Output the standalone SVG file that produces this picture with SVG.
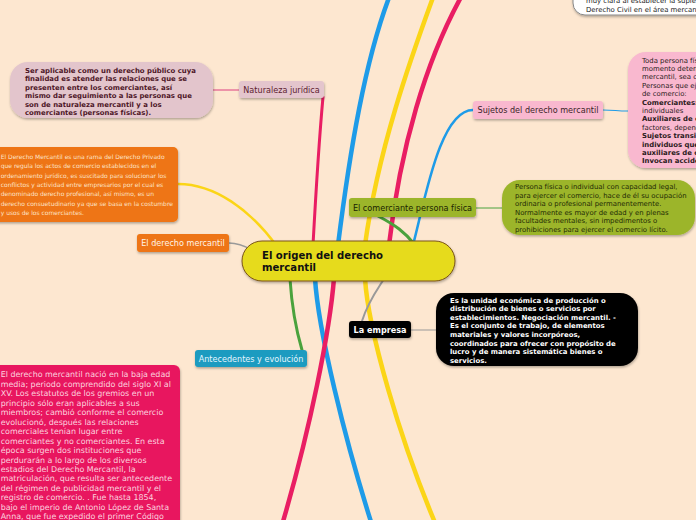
<svg xmlns="http://www.w3.org/2000/svg" width="696" height="520" viewBox="0 0 696 520">
<defs>
<filter id="sh" x="-10%" y="-10%" width="120%" height="130%">
<feDropShadow dx="0.5" dy="1.5" stdDeviation="1" flood-color="#000" flood-opacity="0.3"/>
</filter>
<style>
text{font-family:"DejaVu Sans",Verdana,sans-serif}
.c{fill:none;stroke-linecap:round}
.thick{stroke-width:4.5}
.blue{stroke:#1e9be8}
.yel{stroke:#fbd517}
.red{stroke:#e91e63}
.grn{stroke:#4aa23c}
.gry{stroke:#999}
.lbl{font-size:8.1px;text-anchor:middle}
.note{font-size:6.9px}
.b{font-weight:bold}
</style>
</defs>
<rect width="696" height="520" fill="#fde7d0"/>

<g id="connectors">
<path class="c thick blue" d="M338,245 C350,150 365,60 390,-5"/>
<path class="c thick yel" d="M365,245 C378,150 410,60 435,-8"/>
<path class="c thick red" d="M389,245 C400,150 425,60 465,-10"/>
<path class="c thick blue" d="M315,278 C318,330 345,440 372,525"/>
<path class="c thick red" d="M334,278 C330,330 310,430 282,525"/>
<path class="c thick yel" d="M365,278 C368,330 400,440 436,525"/>
<path class="c red" stroke-width="3" d="M313,245 C316,190 320,130 323,97"/>
<path class="c" stroke="#e8789a" stroke-width="1.5" d="M213,90 L239,90"/>
<path class="c yel" stroke-width="2.5" d="M178,184 C215,184 250,210 276,245"/>
<path class="c gry" stroke-width="1.5" d="M229,243 C237,243 243,245 252,250"/>
<path class="c blue" stroke-width="2.5" d="M413,245 C425,200 440,110 473,110"/>
<path class="c blue" stroke-width="1.2" d="M603,110 C615,110 616,111 628,111"/>
<path class="c grn" stroke-width="3" d="M378,216 C395,225 405,232 415,245"/>
<path class="c grn" stroke-width="1" d="M476,208 L502,208"/>
<path class="c gry" stroke-width="2" d="M362,321 C368,302 377,290 384,279"/>
<path class="c gry" stroke-width="1" d="M411,330 L437,330"/>
<path class="c grn" stroke-width="3" d="M290,279 C292,310 297,333 302,350"/>
</g>

<g id="note-top">
<rect x="573" y="-20" width="140" height="35" rx="12" fill="#fff" stroke="#888" stroke-width="1" filter="url(#sh)"/>
<text class="note" x="586" y="3" fill="#222" font-size="7.6px">muy clara al establecer la supletoriedad del</text>
<text class="note" x="586" y="11.5" fill="#222" font-size="7.6px">Derecho Civil en el área mercantil.</text>
</g>

<g id="note-naturaleza">
<rect x="10" y="62" width="203" height="56" rx="18" fill="#e3c5cc" filter="url(#sh)"/>
<text class="note b" fill="#4d1527" font-size="7.2px">
<tspan x="25" y="72.5">Ser aplicable como un derecho público cuya</tspan>
<tspan x="25" y="81">finalidad es atender las relaciones que se</tspan>
<tspan x="25" y="89.5">presenten entre los comerciantes, así</tspan>
<tspan x="25" y="98">mismo dar seguimiento a las personas que</tspan>
<tspan x="25" y="106.5">son de naturaleza mercantil y a los</tspan>
<tspan x="25" y="115">comerciantes (personas físicas).</tspan>
</text>
</g>

<g id="node-naturaleza">
<rect x="239" y="81" width="85" height="17" rx="3" fill="#e4c5cd" filter="url(#sh)"/>
<text class="lbl" x="281.5" y="92.6" fill="#5d1c30" font-size="7.9px">Naturaleza jurídica</text>
</g>

<g id="note-derecho">
<rect x="-10" y="147" width="188" height="75" rx="5" fill="#ee7512" filter="url(#sh)"/>
<text fill="#fde3c8" font-size="6px">
<tspan x="0.7" y="159">El Derecho Mercantil es una rama del Derecho Privado</tspan>
<tspan x="0.7" y="168.3">que regula los actos de comercio establecidos en el</tspan>
<tspan x="0.7" y="177.6">ordenamiento jurídico, es suscitado para solucionar los</tspan>
<tspan x="0.7" y="186.9">conflictos y actividad entre empresarios por el cual es</tspan>
<tspan x="0.7" y="196.2">denominado derecho profesional, así mismo, es un</tspan>
<tspan x="0.7" y="205.5">derecho consuetudinario ya que se basa en la costumbre</tspan>
<tspan x="0.7" y="214.8">y usos de los comerciantes.</tspan>
</text>
</g>

<g id="node-derecho">
<rect x="137" y="234" width="92" height="18" rx="3" fill="#ee7512" filter="url(#sh)"/>
<text class="lbl" x="183" y="246.1" fill="#fff4e8" font-size="8.15px">El derecho mercantil</text>
</g>

<g id="node-sujetos">
<rect x="473" y="101" width="130" height="18" rx="3" fill="#f9b8cf" filter="url(#sh)"/>
<text class="lbl" x="538" y="113.1" fill="#3b1f28" font-size="8.25px">Sujetos del derecho mercantil</text>
</g>

<g id="note-sujetos">
<rect x="628" y="52" width="120" height="116" rx="18" fill="#f9b8cf" filter="url(#sh)"/>
<text class="note" fill="#2b1a20">
<tspan x="642" y="62.5">Toda persona física o moral que en un</tspan>
<tspan x="642" y="70.9">momento determinado realiza un acto</tspan>
<tspan x="642" y="79.3">mercantil, sea comerciante o no.</tspan>
<tspan x="642" y="87.7">Personas que ejercen la actividad</tspan>
<tspan x="642" y="96.1">de comercio:</tspan>
<tspan x="642" y="104.5" class="b">Comerciantes:</tspan>
<tspan x="642" y="112.9">individuales</tspan>
<tspan x="642" y="121.3" class="b">Auxiliares de comercio:</tspan>
<tspan x="642" y="129.7">factores, dependientes</tspan>
<tspan x="642" y="138.1" class="b">Sujetos transitorios:</tspan>
<tspan x="642" y="146.5" class="b">individuos que no son</tspan>
<tspan x="642" y="154.9" class="b">auxiliares de comercio</tspan>
<tspan x="642" y="163.3" class="b">Invocan accidentalmente</tspan>
</text>
</g>

<g id="node-comerciante">
<rect x="349" y="198" width="127" height="19" rx="3" fill="#9cb52a" filter="url(#sh)"/>
<text class="lbl" x="412.5" y="210.6" fill="#1a2200" font-size="8px">El comerciante persona física</text>
</g>

<g id="note-comerciante">
<rect x="502" y="180" width="193" height="55" rx="18" fill="#9cb52a" filter="url(#sh)"/>
<text class="note" fill="#1f2a05">
<tspan x="515" y="189.3">Persona física o individual con capacidad legal,</tspan>
<tspan x="515" y="197.8">para ejercer el comercio, hace de él su ocupación</tspan>
<tspan x="515" y="206.3">ordinaria o profesional permanentemente.</tspan>
<tspan x="515" y="214.8">Normalmente es mayor de edad y en plenas</tspan>
<tspan x="515" y="223.3">facultades mentales, sin impedimentos o</tspan>
<tspan x="515" y="231.8">prohibiciones para ejercer el comercio lícito.</tspan>
</text>
</g>

<g id="node-center">
<rect x="242" y="241" width="213" height="40" rx="20" fill="#e6db1e" stroke="#7a5418" stroke-width="1" filter="url(#sh)"/>
<text class="b" fill="#111" font-size="10.1px">
<tspan x="262" y="259">El origen del derecho</tspan>
<tspan x="262" y="270.8">mercantil</tspan>
</text>
</g>

<g id="node-empresa">
<rect x="349" y="321" width="62" height="17" rx="3" fill="#050505" filter="url(#sh)"/>
<text class="lbl b" x="380" y="332.7" fill="#fff" font-size="8.6px">La empresa</text>
</g>

<g id="note-empresa">
<rect x="436" y="293" width="202" height="73" rx="18" fill="#050505" filter="url(#sh)"/>
<text class="note b" fill="#fff" font-size="7.1px">
<tspan x="450" y="302.5">Es la unidad económica de producción o</tspan>
<tspan x="450" y="311.1">distribución de bienes o servicios por</tspan>
<tspan x="450" y="319.7">establecimientos. Negociación mercantil. -</tspan>
<tspan x="450" y="328.3">Es el conjunto de trabajo, de elementos</tspan>
<tspan x="450" y="336.9">materiales y valores incorpóreos,</tspan>
<tspan x="450" y="345.5">coordinados para ofrecer con propósito de</tspan>
<tspan x="450" y="354.1">lucro y de manera sistemática bienes o</tspan>
<tspan x="450" y="362.7">servicios.</tspan>
</text>
</g>

<g id="node-antecedentes">
<rect x="195" y="350" width="112" height="17" rx="3" fill="#1a9bc0" filter="url(#sh)"/>
<text class="lbl" x="251" y="361.6" fill="#e4f6ff" font-size="8.2px">Antecedentes y evolución</text>
</g>

<g id="note-antecedentes">
<rect x="-10" y="365" width="190" height="170" rx="6" fill="#e8195f" filter="url(#sh)"/>
<text fill="#fcd3df" font-size="7.95px">
<tspan x="0.7" y="377.3">El derecho mercantil nació en la baja edad</tspan>
<tspan x="0.7" y="386.8">media; periodo comprendido del siglo XI al</tspan>
<tspan x="0.7" y="396.2">XV. Los estatutos de los gremios en un</tspan>
<tspan x="0.7" y="405.7">principio sólo eran aplicables a sus</tspan>
<tspan x="0.7" y="415.2">miembros; cambió conforme el comercio</tspan>
<tspan x="0.7" y="424.6">evolucionó, después las relaciones</tspan>
<tspan x="0.7" y="434.1">comerciales tenían lugar entre</tspan>
<tspan x="0.7" y="443.6">comerciantes y no comerciantes. En esta</tspan>
<tspan x="0.7" y="453">época surgen dos instituciones que</tspan>
<tspan x="0.7" y="462.5">perdurarán a lo largo de los diversos</tspan>
<tspan x="0.7" y="472">estadios del Derecho Mercantil, la</tspan>
<tspan x="0.7" y="481.4">matriculación, que resulta ser antecedente</tspan>
<tspan x="0.7" y="490.9">del régimen de publicidad mercantil y el</tspan>
<tspan x="0.7" y="500.4">registro de comercio. .  Fue hasta 1854,</tspan>
<tspan x="0.7" y="509.8">bajo el imperio de Antonio López de Santa</tspan>
<tspan x="0.7" y="519.3">Anna, que fue expedido el primer Código</tspan>
</text>
</g>
</svg>
